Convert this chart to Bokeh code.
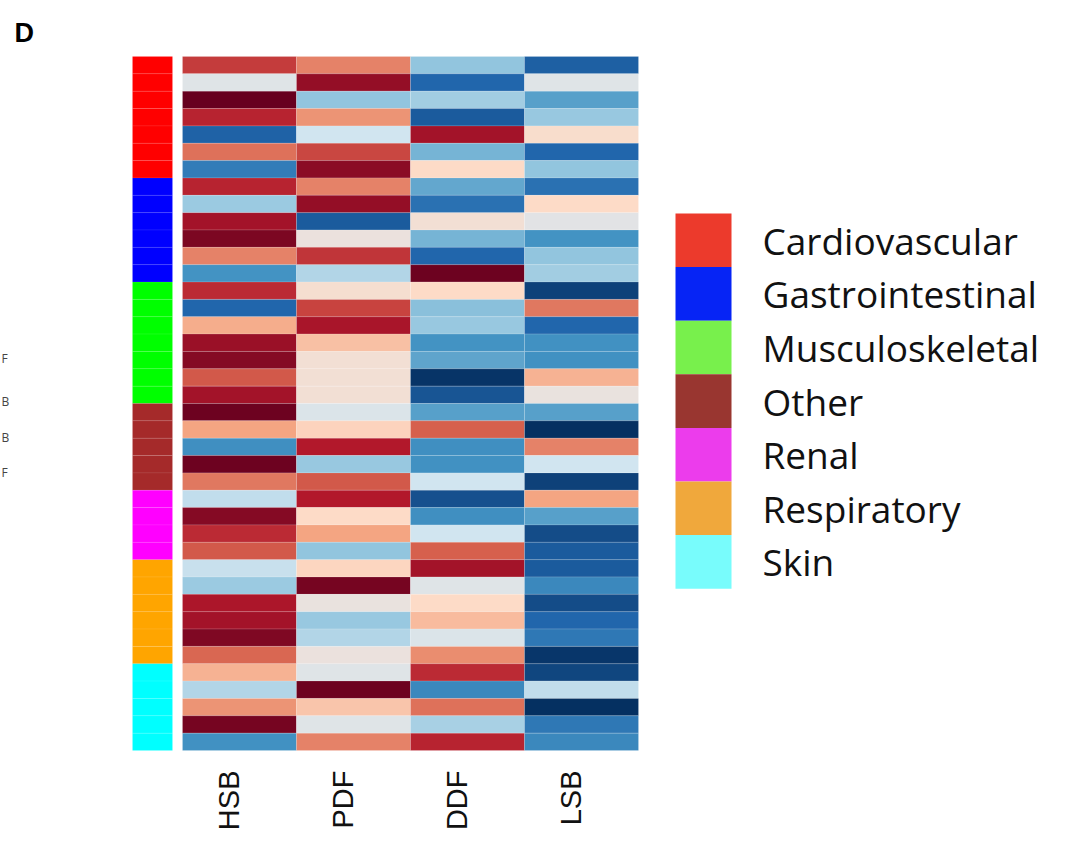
import numpy as np
from bokeh.plotting import figure
from bokeh.models import Range1d
from bokeh.core.properties import value
from bokeh.embed import file_html
from bokeh.resources import INLINE

# ---------------- data ----------------
measures = ["HSB", "PDF", "DDF", "LSB"]
categories = ["Cardiovascular", "Gastrointestinal", "Musculoskeletal", "Other",
              "Renal", "Respiratory", "Skin"]
category_counts = [7, 6, 7, 5, 4, 6, 5]

hsb = [0.65, -0.05, 1.0, 0.72, -0.77, 0.5, -0.65, 0.72, -0.32, 0.8,
       0.93, 0.45, -0.55, 0.7, -0.75, 0.32, 0.83, 0.9, 0.57, 0.8,
       0.98, 0.35, -0.57, 0.98, 0.48, -0.2, 0.9, 0.7, 0.57, -0.18,
       -0.32, 0.77, 0.8, 0.92, 0.53, 0.3, -0.25, 0.4, 0.95, -0.56]
pdf = [0.45, 0.85, -0.35, 0.4, -0.15, 0.62, 0.88, 0.45, 0.85, -0.8,
       0.03, 0.67, -0.25, 0.1, 0.63, 0.78, 0.25, 0.08, 0.08, 0.08,
       -0.08, 0.18, 0.75, -0.33, 0.57, 0.75, 0.15, 0.35, -0.35, 0.17,
       0.95, 0.02, -0.33, -0.25, 0.03, -0.05, 0.98, 0.23, -0.05, 0.45]
ddf = [-0.35, -0.75, -0.3, -0.8, 0.8, -0.42, 0.15, -0.47, -0.7, 0.08,
       -0.42, -0.75, 0.98, 0.15, -0.37, -0.33, -0.55, -0.48, -0.98, -0.83,
       -0.5, 0.55, -0.57, -0.56, -0.15, -0.85, -0.57, -0.15, 0.55, 0.8,
       -0.05, 0.15, 0.27, -0.08, 0.42, 0.7, -0.6, 0.5, -0.28, 0.72]
lsb = [-0.78, -0.05, -0.5, -0.33, 0.12, -0.75, -0.35, -0.7, 0.15, -0.03,
       -0.55, -0.35, -0.3, -0.92, 0.48, -0.75, -0.56, -0.56, 0.3, 0.02,
       -0.5, -1.0, 0.45, -0.15, -0.92, 0.35, -0.5, -0.87, -0.8, -0.8,
       -0.6, -0.87, -0.75, -0.67, -0.97, -0.9, -0.2, -1.0, -0.67, -0.6]
series = [hsb, pdf, ddf, lsb]

edge_letters = ["F", "B", "B", "F"]
edge_rows = [17.4, 19.9, 21.95, 23.95]

# ---------------- styles ----------------
bar_colors = ["#ff0000", "#0000ff", "#00ff00", "#a52a2a", "#ff00ff", "#ffa500", "#00ffff"]
legend_colors = ["#ec3a2c", "#0624f5", "#78f04c", "#993630", "#ec3cec", "#f0a83c", "#78fcfc"]

anchor_pos = [-1.0, -0.75, -0.55, -0.35, -0.15, 0.0, 0.15, 0.35, 0.55, 0.75, 1.0]
anchor_col = ["#053061", "#2166ac", "#4393c3", "#92c5de", "#d1e5f0", "#e6e3e2",
              "#fddbc7", "#f4a582", "#d6604d", "#b2182b", "#67001f"]


def hex2rgb(h):
    return [int(h[i:i + 2], 16) for i in (1, 3, 5)]


anchor_rgb = np.array([hex2rgb(c) for c in anchor_col], dtype=float)


def cmap(v):
    r = np.interp(v, anchor_pos, anchor_rgb[:, 0])
    g = np.interp(v, anchor_pos, anchor_rgb[:, 1])
    b = np.interp(v, anchor_pos, anchor_rgb[:, 2])
    return "#%02x%02x%02x" % (int(round(r)), int(round(g)), int(round(b)))


n_rows = len(hsb)
n_cols = len(measures)

# layout: heatmap frame in pixels
W, H = 1078, 842
left_px, right_px, top_px, bot_px = 182, 638, 56, 750
col_px = (right_px - left_px) / n_cols
row_px = (bot_px - top_px) / n_rows

x_range = Range1d(-left_px / col_px, (W - left_px) / col_px)
y_range = Range1d((H - top_px) / row_px, -top_px / row_px)

p = figure(width=W, height=H, x_range=x_range, y_range=y_range,
           x_axis_location=None, y_axis_location=None,
           toolbar_location=None, output_backend="svg",
           min_border=0, outline_line_color=None, background_fill_color="white")
p.xgrid.visible = False
p.ygrid.visible = False

# heatmap cells
xs, ys, cs = [], [], []
for j, col in enumerate(series):
    for i, v in enumerate(col):
        xs.append(j + 0.5)
        ys.append(i + 0.5)
        cs.append(cmap(v))
p.rect(x=xs, y=ys, width=1, height=1, fill_color=cs,
       line_color="white", line_width=0.6, line_alpha=0.25)

# category side bar
row_cat = []
for k, n in enumerate(category_counts):
    row_cat += [k] * n
bar_l = (132 - left_px) / col_px
bar_r = (172 - left_px) / col_px
p.rect(x=[(bar_l + bar_r) / 2] * n_rows, y=[i + 0.5 for i in range(n_rows)],
       width=bar_r - bar_l, height=1,
       fill_color=[bar_colors[k] for k in row_cat],
       line_color="white", line_width=0.5, line_alpha=0.15)

# column labels (rotated)
lab_top = (770 - top_px) / row_px
p.text(x=[j + 0.5 - 11 / col_px for j in range(n_cols)], y=[lab_top] * n_cols,
       text=measures, angle=np.pi / 2, text_align="right", text_baseline="middle",
       text_font=value("Liberation Sans"), text_font_size="29px", text_color="#111111")

# legend
leg_l = (675 - left_px) / col_px
leg_r = (731 - left_px) / col_px
leg_top = (213 - top_px) / row_px
leg_h = 53.6 / row_px
leg_y = [leg_top + (k + 0.5) * leg_h for k in range(len(categories))]
p.rect(x=[(leg_l + leg_r) / 2] * len(categories), y=leg_y,
       width=leg_r - leg_l, height=leg_h, fill_color=legend_colors, line_color=None)
p.text(x=[(762 - left_px) / col_px] * len(categories), y=leg_y, text=categories,
       text_align="left", text_baseline="middle",
       text_font=value("Open Sans"), text_font_size="37px", text_color="#111111")

# panel letter
p.text(x=[(14 - left_px) / col_px], y=[(32 - top_px) / row_px], text=["D"],
       text_align="left", text_baseline="alphabetic",
       text_font=value("Liberation Sans"), text_font_style="bold",
       text_font_size="27px", text_color="black")

# fragments of neighbouring panel labels at the left edge
p.text(x=[(1 - left_px) / col_px] * len(edge_letters), y=edge_rows, text=edge_letters,
       text_align="left", text_baseline="middle",
       text_font=value("Open Sans"), text_font_size="12px", text_color="#444444")

open("out.html", "w").write(file_html(p, INLINE))
